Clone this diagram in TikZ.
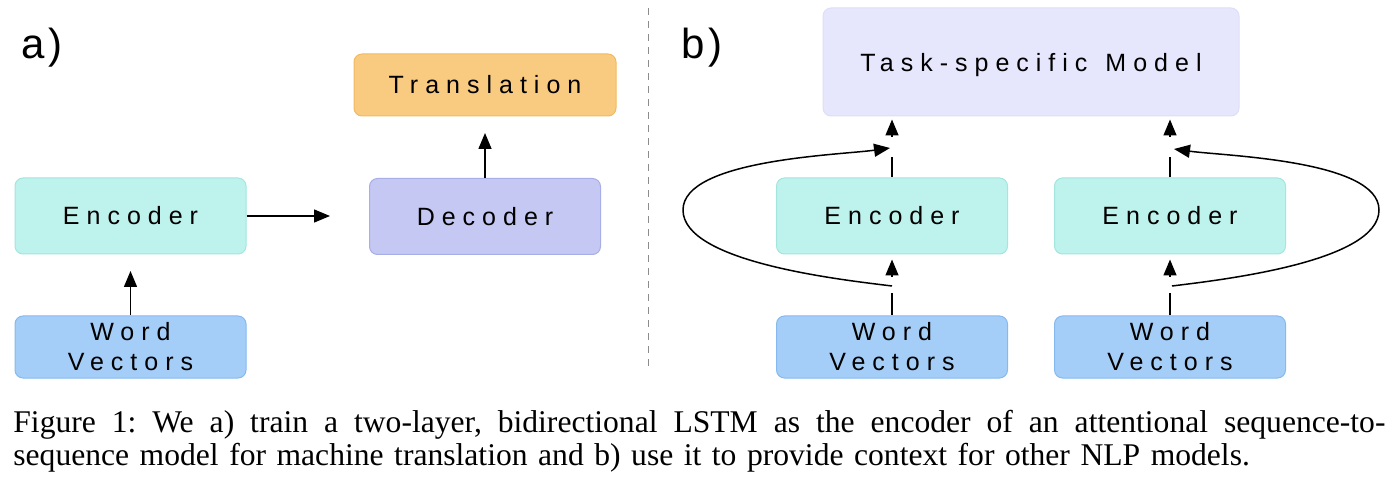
\documentclass[tikz,border=0pt]{standalone}
\usepackage{fontspec}
\setmainfont{Liberation Serif}
\newfontfamily\boxfont{Liberation Sans}[LetterSpace=28]
\newfontfamily\panelfont{Liberation Sans}[LetterSpace=10]
\usepackage{tikz}
\usetikzlibrary{arrows.meta}
\definecolor{transfill}{HTML}{F9CB80}
\definecolor{transline}{HTML}{F0BA62}
\definecolor{encfill}{HTML}{BEF2EC}
\definecolor{encline}{HTML}{A2E6DE}
\definecolor{decfill}{HTML}{C4C8F2}
\definecolor{decline}{HTML}{A8AEE6}
\definecolor{wvfill}{HTML}{A4CEF8}
\definecolor{wvline}{HTML}{86BAEE}
\definecolor{taskfill}{HTML}{E6E6FC}
\definecolor{taskline}{HTML}{DEDEF8}
\colorlet{divcolor}{black!45}
\tikzstyle{arhead}=[>/.tip={Triangle[length=8pt,width=6.5pt]}]
\tikzstyle{ar}=[line width=.75pt,arhead,->]
\tikzstyle{ln}=[line width=.75pt]
\tikzstyle{loop}=[ar,looseness=.6]
\tikzstyle{blk}=[rounded corners=4pt,line width=.5pt,inner sep=0pt,align=center,
  font=\boxfont\fontsize{12.5}{15}\selectfont,minimum width=115.5pt,minimum height=38pt]
\tikzstyle{enc}=[blk,fill=encfill,draw=encline]
\tikzstyle{dec}=[blk,fill=decfill,draw=decline]
\tikzstyle{wv}=[blk,fill=wvfill,draw=wvline,minimum height=31pt]
\tikzstyle{trans}=[blk,fill=transfill,draw=transline,minimum width=131pt,minimum height=31pt]
\tikzstyle{task}=[blk,fill=taskfill,draw=taskline,minimum width=208pt,minimum height=54pt,text depth=0pt]
\tikzstyle{panel}=[anchor=base west,inner sep=0pt,font=\panelfont\fontsize{21}{21}\selectfont]
\tikzstyle{caption}=[anchor=base west,inner sep=0pt,text width=686pt,align=left,
  font=\fontsize{15.8}{16.5}\selectfont\frenchspacing]
\begin{document}
\begin{tikzpicture}[x=0.5pt,y=-0.5pt]
  \useasboundingbox (0,0) rectangle (1398,486);
  \node[panel] (la) at (21,59) {a)};
  \node[panel] (lb) at (681,59) {b)};
  \node[enc] (enca) at (130.5,216) {Encoder};
  \node[wv] (wva) at (130.5,347) {Word\\Vectors};
  \node[dec] (deca) at (485,216.5) {Decoder};
  \node[trans] (trans) at (485,85) {Translation};
  \coordinate (wvatip) at (130.5,271);
  \coordinate (encatip) at (330,216);
  \coordinate (decatip) at (485,133);
  \draw[ar] (wva) -- (wvatip);
  \draw[ar] (enca) -- (encatip);
  \draw[ar] (deca) -- (decatip);
  \coordinate (divtop) at (648,8);
  \coordinate (divbot) at (648,372);
  \draw[divcolor,line width=.5pt,dash pattern=on 3.5pt off 3pt] (divtop) -- (divbot);
  \node[task] (task) at (1031,62) {Task-specific\hspace*{9pt}Model};
  \node[enc] (encl) at (892,216) {Encoder};
  \node[enc] (encr) at (1170,216) {Encoder};
  \node[wv] (wvl) at (892,347) {Word\\Vectors};
  \node[wv] (wvr) at (1170,347) {Word\\Vectors};
  \coordinate (wvlgap) at (892,293);
  \coordinate (wvlbr) at (892,277);
  \coordinate (encltop) at (892,157);
  \coordinate (encltopb) at (892,137);
  \coordinate (wvrgap) at (1170,293);
  \coordinate (wvrbr) at (1170,277);
  \coordinate (encrtop) at (1170,157);
  \coordinate (encrtopb) at (1170,137);
  \draw[ln] (wvl) -- (wvlgap);
  \draw[ar,shorten >=2.5pt] (wvlbr) -- (encl);
  \draw[ln] (encl) -- (encltop);
  \draw[ar,shorten >=1.5pt] (encltopb) -- (encltopb |- task.south);
  \draw[ln] (wvr) -- (wvrgap);
  \draw[ar,shorten >=2.5pt] (wvrbr) -- (encr);
  \draw[ln] (encr) -- (encrtop);
  \draw[ar,shorten >=1.5pt] (encrtopb) -- (encrtopb |- task.south);
  \coordinate (lstart) at (892,286);
  \coordinate (lfar) at (683,210);
  \coordinate (ltip) at (890,148);
  \coordinate (rstart) at (1172,286);
  \coordinate (rfar) at (1379,210);
  \coordinate (rtip) at (1174,149);
  \draw[loop] (lstart) to[out=173,in=270] (lfar) to[out=90,in=188] (ltip);
  \draw[loop] (rstart) to[out=7,in=270] (rfar) to[out=90,in=-8] (rtip);
  \node[caption] (cap) at (13,432) {\makebox[686pt][s]{\spaceskip=0pt\xspaceskip=0pt Figure 1: We a) train a two-layer, bidirectional LSTM as the encoder of an attentional sequence-to-}\\
    sequence model for machine translation and b) use it to provide context for other NLP models.};
\end{tikzpicture}
\end{document}
